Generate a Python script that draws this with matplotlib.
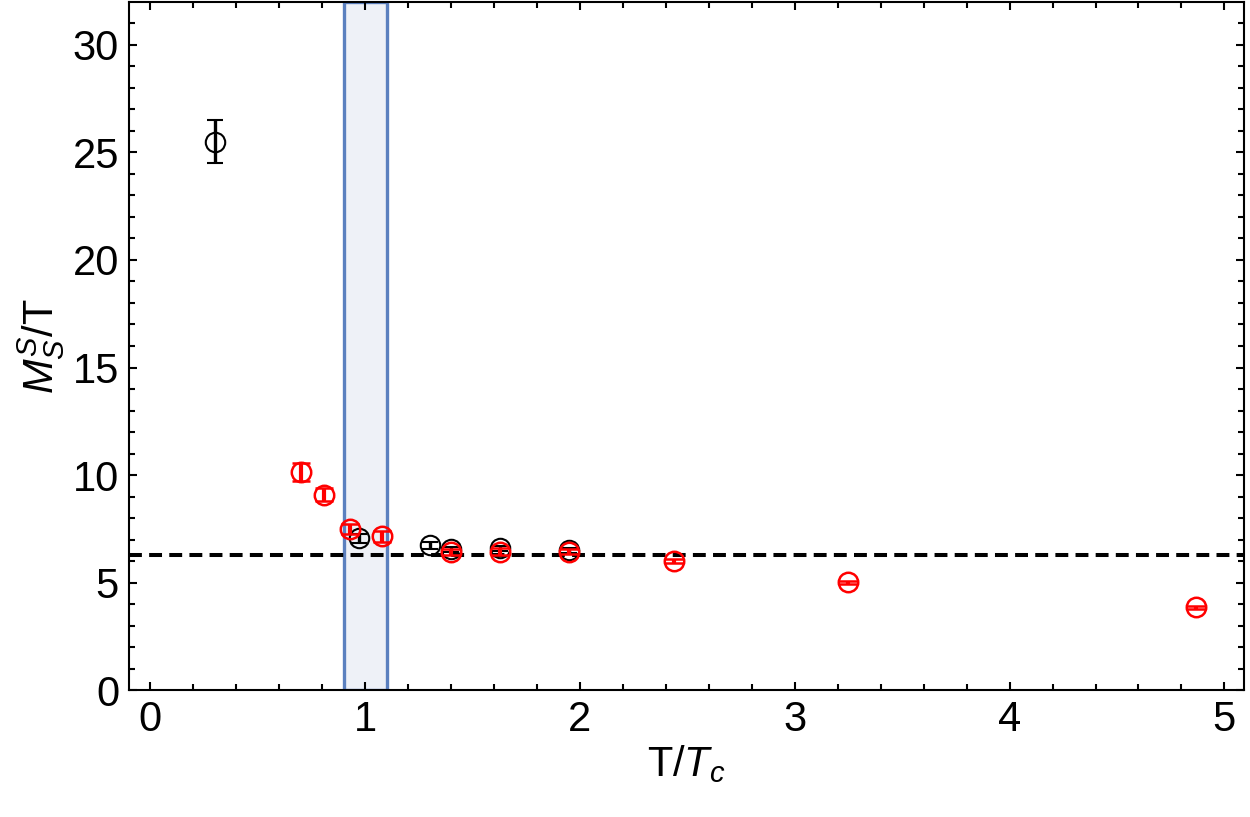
import numpy as np
import matplotlib.pyplot as plt

plt.rcParams['font.family'] = ['Liberation Sans', 'DejaVu Sans']
plt.rcParams['mathtext.fontset'] = 'custom'
plt.rcParams['mathtext.rm'] = 'Liberation Sans'
plt.rcParams['mathtext.it'] = 'Liberation Sans:italic'

# black series
bx = [0.30, 0.97, 1.30, 1.40, 1.63, 1.95]
by = [25.5, 7.07, 6.74, 6.56, 6.60, 6.50]
be = [1.0, 0.2, 0.15, 0.12, 0.12, 0.1]

# red series
rx = [0.70, 0.81, 0.93, 1.08, 1.40, 1.63, 1.95, 2.44, 3.25, 4.87]
ry = [10.15, 9.10, 7.50, 7.15, 6.42, 6.45, 6.45, 6.00, 5.02, 3.86]
re = [0.4, 0.3, 0.25, 0.25, 0.15, 0.15, 0.12, 0.1, 0.08, 0.08]

band = (0.9, 1.1)
level = 2 * np.pi

fig = plt.figure(figsize=(12.5, 8.17), dpi=100)
ax = fig.add_axes([0.103, 0.155, 0.892, 0.843])

ax.axvspan(band[0], band[1], facecolor='#eef1f7', edgecolor='#5b80bf', lw=2.4, zorder=1)
ax.axhline(level, color='black', ls=(0, (3.2, 1.8)), lw=2.9, zorder=2)

ax.errorbar(bx, by, yerr=be, fmt='o', ms=14, mfc='none', mec='black', mew=1.5,
            ecolor='black', elinewidth=2.4, capsize=5.5, capthick=2.8, zorder=3)
ax.errorbar(rx, ry, yerr=re, fmt='o', ms=14, mfc='none', mec='red', mew=1.8,
            ecolor='red', elinewidth=3, capsize=6.5, capthick=3.5, zorder=4)

ax.set_xlim(-0.1, 5.09)
ax.set_ylim(0, 32)
ax.set_xticks(np.arange(0, 6, 1))
ax.set_xticks(np.arange(0, 5.01, 0.2), minor=True)
ax.set_yticks(np.arange(0, 31, 5))
ax.set_yticks(np.arange(0, 32, 1), minor=True)
ax.tick_params(which='both', direction='in', top=True, right=True, width=1.5)
ax.tick_params(which='major', length=6, labelsize=30, pad=7)
ax.tick_params(which='minor', length=4)
for s in ax.spines.values():
    s.set_linewidth(1.5)

ax.set_xlabel('T/$T_c$', fontsize=30, labelpad=2)
ax.set_ylabel('$M_S^S$/T', fontsize=30, labelpad=4)

fig.savefig('out.png', dpi=100)
